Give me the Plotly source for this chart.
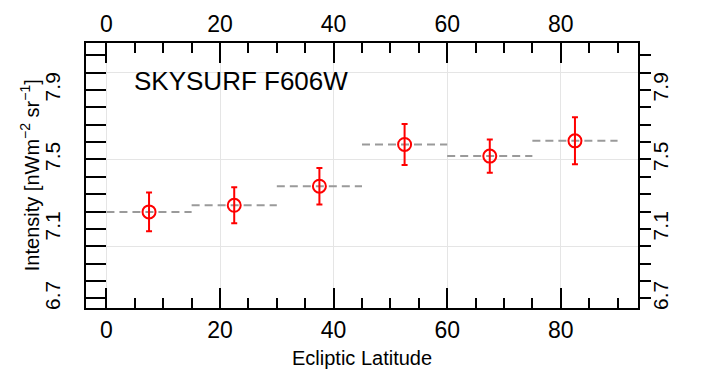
import plotly.graph_objects as go

# ---- data ----
bin_lo = [0, 15, 30, 45, 60, 75]
bin_hi = [15, 30, 45, 60, 75, 90]
lat_center = [7.5, 22.5, 37.5, 52.5, 67.5, 82.5]
intensity = [7.198, 7.236, 7.346, 7.586, 7.519, 7.607]
intensity_err = [0.112, 0.104, 0.105, 0.118, 0.096, 0.135]

x_ticks = [0, 20, 40, 60, 80]
y_ticks = [6.7, 7.1, 7.5, 7.9]
y_grid = [7.0, 7.5, 8.0]

x_range = [-3.6, 93.6]
y_range = [6.645, 8.17]

FONT = "Liberation Sans, Arial, Helvetica, sans-serif"
RED = "#ff0000"
GREY = "#9a9a9a"
GRID = "#e5e5e5"

# dashed bin-level segments
seg_x, seg_y = [], []
for lo, hi, v in zip(bin_lo, bin_hi, intensity):
    seg_x += [lo, hi, None]
    seg_y += [v, v, None]

fig = go.Figure()
fig.add_trace(go.Scatter(
    x=seg_x, y=seg_y, mode="lines",
    line=dict(color=GREY, width=2, dash="8px,5px"),
    hoverinfo="skip", showlegend=False))
fig.add_trace(go.Scatter(
    x=lat_center, y=intensity, mode="markers",
    marker=dict(symbol="circle-open", size=13, color=RED, line=dict(width=2, color=RED)),
    error_y=dict(type="data", array=intensity_err, color=RED, thickness=2, width=3),
    showlegend=False))
# invisible helpers so overlay axes are drawn
fig.add_trace(go.Scatter(x=lat_center, y=intensity, xaxis="x2", yaxis="y2",
                         mode="markers", marker=dict(opacity=0), hoverinfo="skip", showlegend=False))
fig.add_trace(go.Scatter(x=lat_center, y=intensity, xaxis="x", yaxis="y3",
                         mode="markers", marker=dict(opacity=0), hoverinfo="skip", showlegend=False))

tickfont_x = dict(family=FONT, size=23, color="black")
tickfont_y = dict(family=FONT, size=21, color="black")

xcommon = dict(range=x_range, showline=True, linecolor="black", linewidth=2,
               ticks="inside", ticklen=20, tickwidth=2, tickcolor="black",
               tickvals=x_ticks, ticktext=[str(v) for v in x_ticks],
               tickfont=tickfont_x, zeroline=False,
               minor=dict(ticks="inside", ticklen=10, tickwidth=2, tickcolor="black",
                          dtick=5, tick0=0, showgrid=False))
ycommon = dict(range=y_range, showline=True, linecolor="black", linewidth=2,
               tickwidth=2, tickcolor="black",
               tickvals=y_ticks, ticktext=[f"{v:.1f}" for v in y_ticks],
               tickangle=-90, tickfont=tickfont_y, zeroline=False, showgrid=False)

fig.update_layout(
    width=702, height=374,
    margin=dict(l=86, r=64, t=43, b=66, autoexpand=False),
    paper_bgcolor="white", plot_bgcolor="white",
    font=dict(family=FONT, color="black"),
    showlegend=False,
    xaxis=dict(**xcommon, side="bottom", anchor="y", showgrid=True, gridcolor=GRID, gridwidth=1),
    xaxis2=dict(**xcommon, side="top", overlaying="x", matches="x", anchor="y", showgrid=False),
    yaxis=dict(**ycommon, side="left", anchor="x", ticks="inside", ticklen=20,
               ticklabelstandoff=16,
               minor=dict(ticks="inside", ticklen=20, tickwidth=2, tickcolor="black",
                          dtick=0.1, tick0=6.7, showgrid=False)),
    yaxis2=dict(**ycommon, side="right", overlaying="y", matches="y", anchor="x",
                ticks="outside", ticklen=11, ticklabelstandoff=-8,
                minor=dict(ticks="outside", ticklen=11, tickwidth=2, tickcolor="black",
                           dtick=0.1, tick0=6.7, showgrid=False)),
    yaxis3=dict(range=y_range, overlaying="y", matches="y", anchor="x", side="left",
                tickvals=y_grid, showticklabels=False, ticks="", showline=False,
                showgrid=True, gridcolor=GRID, gridwidth=1, zeroline=False),
    annotations=[
        dict(text="SKYSURF F606W", xref="paper", yref="paper", x=0.083, y=0.857,
             xanchor="left", yanchor="middle", showarrow=False,
             font=dict(family=FONT, size=26, color="black")),
        dict(text="Ecliptic Latitude", xref="paper", yref="paper", x=0.5, y=-0.19,
             xanchor="center", yanchor="middle", showarrow=False,
             font=dict(family=FONT, size=20, color="black")),
        dict(text="Intensity [nWm<sup>−2</sup> sr<sup>−1</sup>]", xref="paper", yref="paper",
             x=-0.102, y=0.5, xanchor="center", yanchor="middle", textangle=-90,
             showarrow=False, font=dict(family=FONT, size=20, color="black")),
    ],
)

fig.write_html("out.html", config={"displayModeBar": False},
               post_script="document.body.style.margin='0px';")
